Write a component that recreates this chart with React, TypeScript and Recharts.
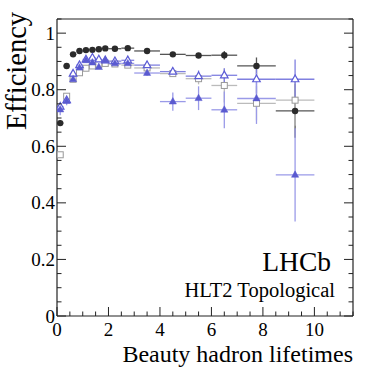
import React from 'react';
import { ComposedChart, Scatter, XAxis, YAxis, ErrorBar } from 'recharts';

const binCenters = [0.125, 0.375, 0.625, 0.875, 1.125, 1.375, 1.625, 1.875, 2.25, 2.75, 3.5, 4.5, 5.5, 6.5, 7.75, 9.25];
const binHalfWidths = [0.125, 0.125, 0.125, 0.125, 0.125, 0.125, 0.125, 0.125, 0.25, 0.25, 0.5, 0.5, 0.5, 0.5, 0.75, 0.75];

const circleEff = [0.682, 0.884, 0.925, 0.937, 0.940, 0.941, 0.943, 0.946, 0.945, 0.947, 0.937, 0.925, 0.921, 0.922, 0.884, 0.725];
const circleErr = [0.01, 0.006, 0.004, 0.003, 0.003, 0.003, 0.003, 0.003, 0.003, 0.003, 0.004, 0.005, 0.008, 0.015, 0.03, 0.095];

const squareEff = [0.570, 0.777, 0.837, 0.860, 0.876, 0.884, 0.890, 0.893, 0.891, 0.887, 0.877, 0.857, 0.839, 0.815, 0.752, 0.763];
const squareErr = [0.01, 0.008, 0.005, 0.004, 0.004, 0.004, 0.004, 0.004, 0.004, 0.004, 0.006, 0.01, 0.02, 0.06, 0.06, 0.09];

const openTriEff = [0.740, 0.763, 0.857, 0.887, 0.907, 0.913, 0.907, 0.904, 0.901, 0.904, 0.887, 0.864, 0.848, 0.851, 0.837, 0.837];
const openTriErr = [0.01, 0.008, 0.006, 0.005, 0.005, 0.005, 0.005, 0.005, 0.005, 0.005, 0.008, 0.012, 0.02, 0.025, 0.05, 0.07];

const fullTriEff = [0.730, 0.760, 0.837, 0.878, 0.904, 0.896, 0.880, 0.904, 0.893, 0.893, 0.859, 0.758, 0.770, 0.729, 0.769, 0.499];
const fullTriErr = [0.02, 0.015, 0.01, 0.008, 0.007, 0.007, 0.007, 0.007, 0.007, 0.007, 0.01, 0.032, 0.042, 0.065, 0.09, 0.165];

const xAllTicks = Array.from({ length: 24 }, (_, i) => i * 0.5);
const yAllTicks = Array.from({ length: 22 }, (_, i) => Math.round(i * 5) / 100);

const build = (eff: number[], err: number[]) =>
  binCenters.map((x, i) => ({ x, y: eff[i], ex: binHalfWidths[i], ey: err[i] }));

const circleData = build(circleEff, circleErr);
const squareData = build(squareEff, squareErr);
const openTriData = build(openTriEff, openTriErr);
const fullTriData = build(fullTriEff, fullTriErr);

const FONT = "'Liberation Serif', 'Times New Roman', serif";
const AXIS = '#222';
const isMajor = (v: number, step: number) => Math.abs(v / step - Math.round(v / step)) < 1e-6;

const BottomTick = (p: any) => {
  const v = p.payload.value;
  const major = isMajor(v, 2);
  return (
    <g>
      <line x1={p.x} x2={p.x} y1={p.y} y2={p.y - (major ? 9 : 4.5)} stroke={AXIS} strokeWidth={1} />
      {major && (
        <text x={p.x} y={p.y + 20} textAnchor="middle" fontFamily={FONT} fontSize={19} fill="#000">{v}</text>
      )}
    </g>
  );
};
const TopTick = (p: any) => {
  const major = isMajor(p.payload.value, 2);
  return <line x1={p.x} x2={p.x} y1={p.y} y2={p.y + (major ? 9 : 4.5)} stroke={AXIS} strokeWidth={1} />;
};
const LeftTick = (p: any) => {
  const v = p.payload.value;
  const major = isMajor(v, 0.2);
  return (
    <g>
      <line x1={p.x} x2={p.x + (major ? 9 : 4.5)} y1={p.y} y2={p.y} stroke={AXIS} strokeWidth={1} />
      {major && (
        <text x={p.x - 2} y={p.y + 6.5} textAnchor="end" fontFamily={FONT} fontSize={19} fill="#000">{String(Math.round(v * 10) / 10)}</text>
      )}
    </g>
  );
};
const RightTick = (p: any) => {
  const major = isMajor(p.payload.value, 0.2);
  return <line x1={p.x} x2={p.x - (major ? 9 : 4.5)} y1={p.y} y2={p.y} stroke={AXIS} strokeWidth={1} />;
};

const CircleShape = (p: any) => <circle cx={p.cx} cy={p.cy} r={3.2} fill="#2b2b2b" />;
const SquareShape = (p: any) => (
  <rect x={p.cx - 3} y={p.cy - 3} width={6} height={6} fill="#fff" stroke="#9a9a9a" strokeWidth={1} />
);
const triPts = (cx: number, cy: number, s: number) =>
  `${cx},${cy - s} ${cx - s * 0.9},${cy + s * 0.6} ${cx + s * 0.9},${cy + s * 0.6}`;
const OpenTriShape = (p: any) => (
  <polygon points={triPts(p.cx, p.cy, 4.2)} fill="#fff" stroke="#5b5bd6" strokeWidth={1.2} />
);
const FullTriShape = (p: any) => (
  <polygon points={triPts(p.cx, p.cy, 4)} fill="#5a5ad0" stroke="#5a5ad0" strokeWidth={0.5} />
);

export default function App() {
  return (
    <div style={{ position: 'absolute', left: 0, top: 0, width: 384, height: 372, background: '#fff' }}>
      <ComposedChart width={384} height={372} margin={{ top: 18, right: 30, bottom: 55, left: 56 }}>
        <XAxis
          xAxisId={0}
          type="number"
          dataKey="x"
          domain={[0, 11.5]}
          ticks={xAllTicks}
          interval={0}
          height={1}
          tickSize={0}
          tickMargin={0}
          tick={BottomTick}
          tickLine={false}
          axisLine={{ stroke: AXIS, strokeWidth: 1.2 }}
          allowDataOverflow
        />
        <XAxis
          xAxisId="top"
          orientation="top"
          type="number"
          domain={[0, 11.5]}
          ticks={xAllTicks}
          interval={0}
          height={1}
          tickSize={0}
          tickMargin={0}
          tick={TopTick}
          tickLine={false}
          axisLine={{ stroke: AXIS, strokeWidth: 1.2 }}
          allowDataOverflow
        />
        <YAxis
          yAxisId={0}
          type="number"
          domain={[0, 1.05]}
          ticks={yAllTicks}
          interval={0}
          width={1}
          tickSize={0}
          tickMargin={0}
          tick={LeftTick}
          tickLine={false}
          axisLine={{ stroke: AXIS, strokeWidth: 1.2 }}
          allowDataOverflow
        />
        <YAxis
          yAxisId="right"
          orientation="right"
          type="number"
          domain={[0, 1.05]}
          ticks={yAllTicks}
          interval={0}
          width={1}
          tickSize={0}
          tickMargin={0}
          tick={RightTick}
          tickLine={false}
          axisLine={{ stroke: AXIS, strokeWidth: 1.2 }}
          allowDataOverflow
        />
        <Scatter data={circleData} dataKey="y" shape={<CircleShape />} isAnimationActive={false}>
          <ErrorBar dataKey="ex" direction="x" width={0} stroke="#555" strokeWidth={1.3} />
          <ErrorBar dataKey="ey" direction="y" width={0} stroke="#555" strokeWidth={1.3} />
        </Scatter>
        <Scatter data={squareData} dataKey="y" shape={<SquareShape />} isAnimationActive={false}>
          <ErrorBar dataKey="ex" direction="x" width={0} stroke="#bbbbbb" strokeWidth={1.3} />
          <ErrorBar dataKey="ey" direction="y" width={0} stroke="#bbbbbb" strokeWidth={1.3} />
        </Scatter>
        <Scatter data={openTriData} dataKey="y" shape={<OpenTriShape />} isAnimationActive={false}>
          <ErrorBar dataKey="ex" direction="x" width={0} stroke="#8080e0" strokeWidth={1.3} />
          <ErrorBar dataKey="ey" direction="y" width={0} stroke="#8080e0" strokeWidth={1.3} />
        </Scatter>
        <Scatter data={fullTriData} dataKey="y" shape={<FullTriShape />} isAnimationActive={false}>
          <ErrorBar dataKey="ex" direction="x" width={0} stroke="#9a9ae8" strokeWidth={1.3} />
          <ErrorBar dataKey="ey" direction="y" width={0} stroke="#9a9ae8" strokeWidth={1.3} />
        </Scatter>
      </ComposedChart>
      <svg width={384} height={372} style={{ position: 'absolute', left: 0, top: 0, pointerEvents: 'none' }}>
        <text x={26} y={71} transform="rotate(-90 26 71)" textAnchor="middle" fontFamily={FONT} fontSize={28.5} fill="#000">Efficiency</text>
        <text x={353} y={362} textAnchor="end" fontFamily={FONT} fontSize={24} fill="#000">Beauty hadron lifetimes</text>
        <text x={331} y={271} textAnchor="end" fontFamily={FONT} fontSize={27.5} fill="#000">LHCb</text>
        <text x={335} y={297} textAnchor="end" fontFamily={FONT} fontSize={20.5} fill="#000">HLT2 Topological</text>
      </svg>
    </div>
  );
}
